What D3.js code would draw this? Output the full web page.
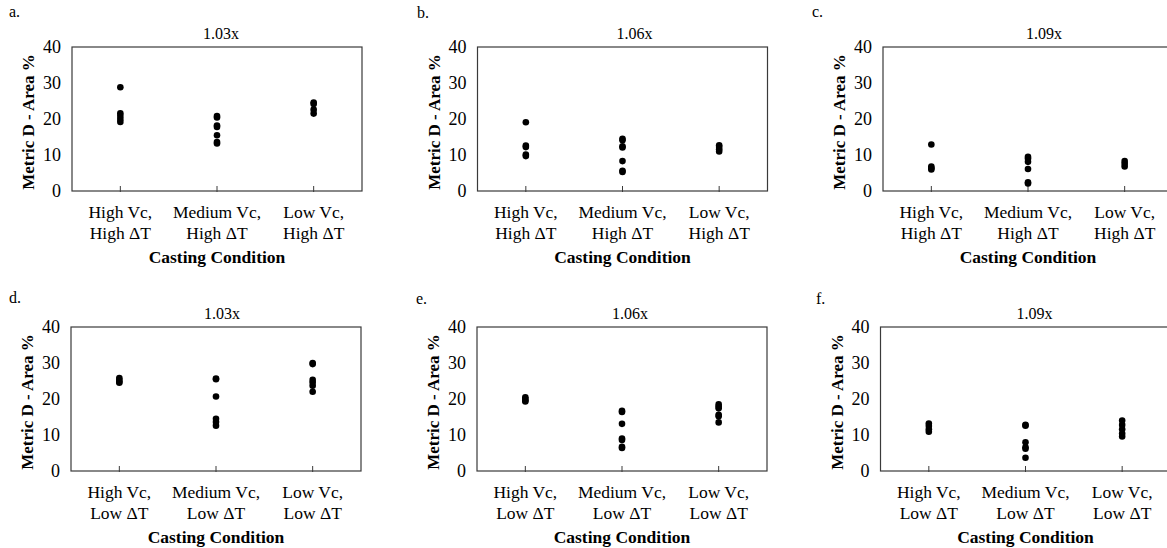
<!DOCTYPE html>
<html>
<head>
<meta charset="utf-8">
<script src="https://cdn.jsdelivr.net/npm/d3@7"></script>
<style>
  body { margin: 0; background: #fff; }
  svg { display: block; }
  text { font-family: "Liberation Serif", "Times New Roman", serif; fill: #000; }
</style>
</head>
<body>
<script>
// categories, one per x position (two text lines each)
const highDtCats = [['High Vc,', 'High ΔT'], ['Medium Vc,', 'High ΔT'], ['Low Vc,', 'High ΔT']];
const lowDtCats = [['High Vc,', 'Low ΔT'], ['Medium Vc,', 'Low ΔT'], ['Low Vc,', 'Low ΔT']];
const titles = ['1.03x', '1.06x', '1.09x', '1.03x', '1.06x', '1.09x'];
const letters = ['a.', 'b.', 'c.', 'd.', 'e.', 'f.'];
const yTicks = [0, 10, 20, 30, 40];

// values per category (High Vc, Medium Vc, Low Vc)
const panelA = [[28.8, 21.6, 20.8, 20.0, 19.2], [20.8, 20.4, 18.2, 17.8, 15.5, 13.6, 13.2], [24.6, 24.2, 22.6, 21.5]];
const panelB = [[19.1, 12.6, 12.2, 10.1, 9.7], [14.5, 14.1, 12.4, 12.1, 8.3, 5.6, 5.3], [12.7, 12.2, 11.6, 11.0]];
const panelC = [[12.9, 6.8, 6.3, 6.0], [9.5, 9.0, 8.1, 6.1, 2.4, 2.1], [8.3, 7.6, 6.8]];
const panelD = [[25.8, 25.3, 24.8, 24.5], [25.7, 25.5, 20.7, 14.5, 13.6, 12.6], [30.0, 29.7, 25.3, 24.6, 23.7, 22.0]];
const panelE = [[20.5, 20.0, 19.6, 19.3], [16.7, 16.4, 13.1, 9.0, 8.6, 6.7, 6.4], [18.5, 17.9, 17.4, 15.6, 15.2, 13.5]];
const panelF = [[13.2, 12.5, 11.6, 10.9], [12.8, 12.6, 8.0, 6.6, 6.2, 3.7], [14.0, 12.8, 11.6, 10.4, 9.6]];

const panelData = [panelA, panelB, panelC, panelD, panelE, panelF];

const width = 1167;
const height = 548;
const plotW = 290;
const plotH = 144;

// layout: plot-area left/top, title x offset and letter position
const layout = [
  { x: 72, y: 47, tx: 149, lx: 9, ly: 17 },
  { x: 477.5, y: 47, tx: 157, lx: 417, ly: 18 },
  { x: 883, y: 47, tx: 161, lx: 812, ly: 17 },
  { x: 71, y: 327, tx: 151, lx: 9, ly: 303 },
  { x: 477, y: 327, tx: 153, lx: 416, ly: 304 },
  { x: 880.5, y: 327, tx: 154, lx: 816, ly: 304 }
];

const svg = d3.select('body')
  .append('svg')
    .attr('width', width)
    .attr('height', height);

panelData.forEach((data, p) => {
  const L = layout[p];
  const cats = p < 3 ? highDtCats : lowDtCats;

  const x = d3.scalePoint()
    .domain(d3.range(cats.length))
    .range([0, plotW])
    .padding(0.5);
  const y = d3.scaleLinear().domain([0, 40]).range([plotH, 0]);

  svg.append('text')
    .attr('x', L.lx)
    .attr('y', L.ly)
    .attr('font-size', 16)
    .text(letters[p]);

  const g = svg.append('g').attr('transform', `translate(${L.x},${L.y})`);

  g.append('rect')
    .attr('width', plotW)
    .attr('height', plotH)
    .attr('fill', 'none')
    .attr('stroke', '#3a3a3a')
    .attr('stroke-width', 1.2);

  // category ticks
  g.selectAll('line.ctick')
    .data(cats)
    .enter()
    .append('line')
      .attr('x1', (d, i) => x(i))
      .attr('x2', (d, i) => x(i))
      .attr('y1', plotH - 5)
      .attr('y2', plotH + 1)
      .attr('stroke', '#3a3a3a');

  // y tick labels
  g.selectAll('text.ytick')
    .data(yTicks)
    .enter()
    .append('text')
      .attr('x', -11)
      .attr('y', d => y(d))
      .attr('dy', '0.35em')
      .attr('text-anchor', 'end')
      .attr('font-size', 18)
      .text(d => d);

  // category labels
  cats.forEach((lines, i) => {
    lines.forEach((t, k) => {
      g.append('text')
        .attr('x', x(i))
        .attr('y', plotH + 27 + k * 21)
        .attr('text-anchor', 'middle')
        .attr('font-size', 17.5)
        .text(t);
    });
  });

  g.append('text')
    .attr('x', plotW / 2)
    .attr('y', plotH + 72)
    .attr('text-anchor', 'middle')
    .attr('font-size', 17.5)
    .attr('font-weight', 'bold')
    .text('Casting Condition');

  g.append('text')
    .attr('x', L.tx)
    .attr('y', -8)
    .attr('text-anchor', 'middle')
    .attr('font-size', 16)
    .text(titles[p]);

  g.append('text')
    .attr('transform', `translate(-38,${plotH / 2 + 3}) rotate(-90)`)
    .attr('text-anchor', 'middle')
    .attr('font-size', 17)
    .attr('font-weight', 'bold')
    .text('Metric D - Area %');

  const pts = [];
  data.forEach((vals, i) => vals.forEach(v => pts.push({ i, v })));

  g.selectAll('circle')
    .data(pts)
    .enter()
    .append('circle')
      .attr('cx', d => x(d.i))
      .attr('cy', d => y(d.v))
      .attr('r', 3.3)
      .attr('fill', '#000');
});
</script>
</body>
</html>
